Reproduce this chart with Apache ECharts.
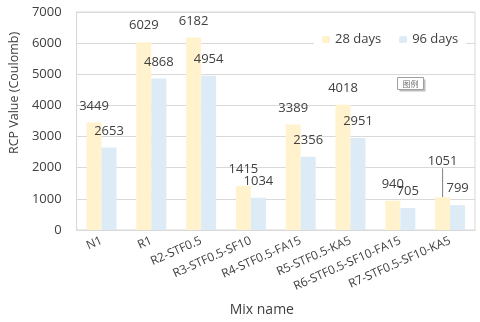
<!DOCTYPE html>
<html>
<head>
<meta charset="utf-8">
<script src="https://cdn.jsdelivr.net/npm/echarts@6/dist/echarts.min.js"></script>
<style>
html, body { margin: 0; padding: 0; background: #fff; }
#chart { width: 480px; height: 322px; }
</style>
</head>
<body>
<div id="chart"></div>
<script>
var mixNames = ['N1', 'R1', 'R2-STF0.5', 'R3-STF0.5-SF10', 'R4-STF0.5-FA15', 'R5-STF0.5-KA5', 'R6-STF0.5-SF10-FA15', 'R7-STF0.5-SF10-KA5'];
var days28 = [3449, 6029, 6182, 1415, 3389, 4018, 940, 1051];
var days96 = [2653, 4868, 4954, 1034, 2356, 2951, 705, 799];
var yTicks = { min: 0, max: 7000, step: 1000 };

var FONT = '"Open Sans", "Liberation Sans", sans-serif';
var TXT = '#404040';

var myChart = echarts.init(document.getElementById('chart'));

// only the R7 28-day label was dragged up with a leader line
var days28Data = days28.map(function (v, i) {
    if (i === 7) return { value: v, labelLine: { show: true } };
    return v;
});

myChart.setOption({
    animation: false,
    textStyle: { fontFamily: FONT },
    grid: {
        left: 73, right: 5, top: 12, bottom: 91,
        show: true, borderColor: '#d9d9d9', borderWidth: 1
    },
    legend: {
        top: 31,
        left: 314,
        itemWidth: 8,
        itemHeight: 7,
        itemGap: 18,
        backgroundColor: '#fff',
        padding: [2, 8, 2, 8],
        textStyle: { fontFamily: FONT, fontSize: 13, color: TXT },
        data: ['28 days', '96 days']
    },
    xAxis: {
        type: 'category',
        data: mixNames,
        name: 'Mix name',
        nameLocation: 'middle',
        nameGap: 73,
        nameTextStyle: { fontFamily: FONT, fontSize: 14, color: TXT, padding: [0, 28, 0, 0] },
        axisLine: { lineStyle: { color: '#d9d9d9' } },
        axisTick: { show: false },
        axisLabel: { interval: 0, rotate: 24, margin: 10, fontFamily: FONT, fontSize: 12, color: TXT }
    },
    yAxis: {
        type: 'value',
        min: yTicks.min,
        max: yTicks.max,
        interval: yTicks.step,
        name: 'RCP Value (Coulomb)',
        nameLocation: 'middle',
        nameGap: 54,
        nameTextStyle: { fontFamily: FONT, fontSize: 12.5, color: TXT, padding: [0, 0, 0, 56] },
        axisLine: { show: true, lineStyle: { color: '#d9d9d9' } },
        axisTick: { show: false },
        axisLabel: {
            margin: 15, fontFamily: FONT, fontSize: 13, color: TXT,
            formatter: function (v) { return String(v); }
        },
        splitLine: { lineStyle: { color: '#d9d9d9' } }
    },
    series: [{
        name: '28 days',
        type: 'bar',
        data: days28Data,
        barWidth: 15,
        barGap: 0,
        itemStyle: { color: '#fff2cc' },
        label: { show: true, position: 'top', distance: 10, fontFamily: FONT, fontSize: 13, color: TXT },
        labelLayout: function (params) {
            if (params.dataIndex === 7) return { dy: -19 };
        },
        labelLine: { show: false, lineStyle: { color: '#808080', width: 1 } }
    }, {
        name: '96 days',
        type: 'bar',
        data: days96,
        barWidth: 15,
        itemStyle: { color: '#ddebf7' },
        label: { show: true, position: 'top', distance: 10, fontFamily: FONT, fontSize: 13, color: TXT }
    }],
    graphic: [{
        type: 'group',
        left: 397,
        top: 77,
        children: [{
            type: 'rect',
            shape: { x: 2, y: 2, width: 26, height: 12 },
            style: { fill: '#bdbdbd' }
        }, {
            type: 'rect',
            shape: { x: 0, y: 0, width: 26, height: 12 },
            style: { fill: '#fff', stroke: '#a0a0a0', lineWidth: 1 }
        }, {
            type: 'text',
            style: { x: 13, y: 6, text: '图例', fontSize: 8, fill: '#707070', align: 'center', verticalAlign: 'middle', fontFamily: '"Noto Sans CJK SC"' }
        }]
    }]
});
</script>
</body>
</html>
